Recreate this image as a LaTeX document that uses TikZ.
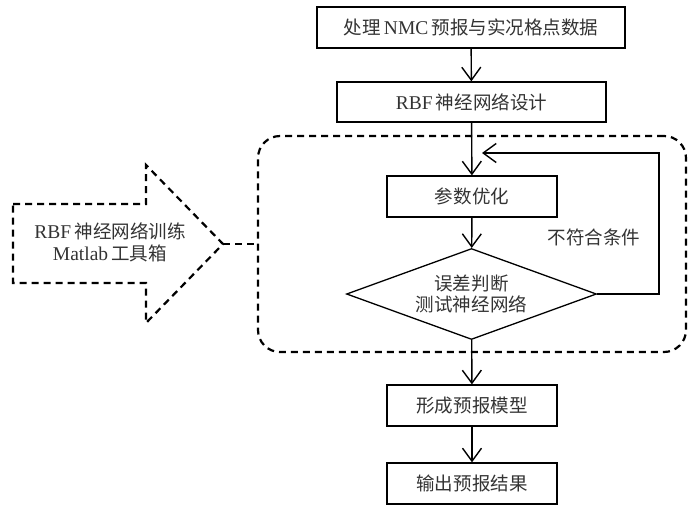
\documentclass[tikz,border=0pt]{standalone}
\usepackage{fontspec}
\setmainfont{Liberation Serif}
\newfontfamily\cjk{Noto Sans CJK SC}[Scale=0.95]
\usetikzlibrary{arrows.meta,shapes.geometric}
\begin{document}
\begin{tikzpicture}[x=1pt,y=-1pt,
  font=\fontsize{19.5}{21}\selectfont,
  every node/.style={text=black!80},
  box/.style={draw=black, line width=1.3pt, inner sep=0pt, align=center},
  arr/.style={-{Straight Barb[length=13pt,width=19pt]}, line width=1.4pt},
  dsh/.style={line width=2.2pt, dash pattern=on 7pt off 5pt},
  txt/.style={align=center, inner sep=0pt}]
\useasboundingbox (0,0) rectangle (700,512);
% main boxes
\node[box, minimum width=308, minimum height=41] (b1) at (471,27.5) {{\cjk 处理}\,NMC\,{\cjk 预报与实况格点数据}};
\node[box, minimum width=269, minimum height=40] (b2) at (471.5,102) {RBF\,{\cjk 神经网络设计}};
\node[box, minimum width=170, minimum height=41] (b3) at (472,196.5) {\cjk 参数优化};
\node[box, draw=black, diamond, aspect=2.75, minimum width=250, minimum height=91, text=black!80] (dia) at (471.5,294) {\cjk 误差判断\\\cjk 测试神经网络};
\node[box, minimum width=170, minimum height=41] (b4) at (472,405.5) {\cjk 形成预报模型};
\node[box, minimum width=170, minimum height=41] (b5) at (472,483.5) {\cjk 输出预报结果};
% dashed group
\node[draw=black, dsh, rounded corners=22pt, minimum width=428, minimum height=216, inner sep=0pt] (grp) at (472,244) {};
% big dashed arrow
\coordinate (tip) at (223,244);
\draw[dsh, line join=miter] (13,204) -- (146,204) -- (146,165) -- (tip) -- (146,323) -- (146,283) -- (13,283) -- cycle;
\node[txt] (tool) at (110,242) {RBF\,{\cjk 神经网络训练}\\[1pt]Matlab\,{\cjk 工具箱}};
\draw[dsh] (tip) -- (grp.west);
% connectors
\draw[arr] (b1) -- (b2);
\draw[arr] (b2) -- (b3);
\draw[arr] (b3) -- (dia);
\draw[arr] (dia) -- (b4);
\draw[arr] (b4) -- (b5);
\coordinate (fb) at (482,153);
\coordinate (fbc) at (659,294);
\draw[arr] (dia.east) -- (fbc) |- (fb);
\node[txt] (lbl) at (594,237) {\cjk 不符合条件};
\end{tikzpicture}
\end{document}
